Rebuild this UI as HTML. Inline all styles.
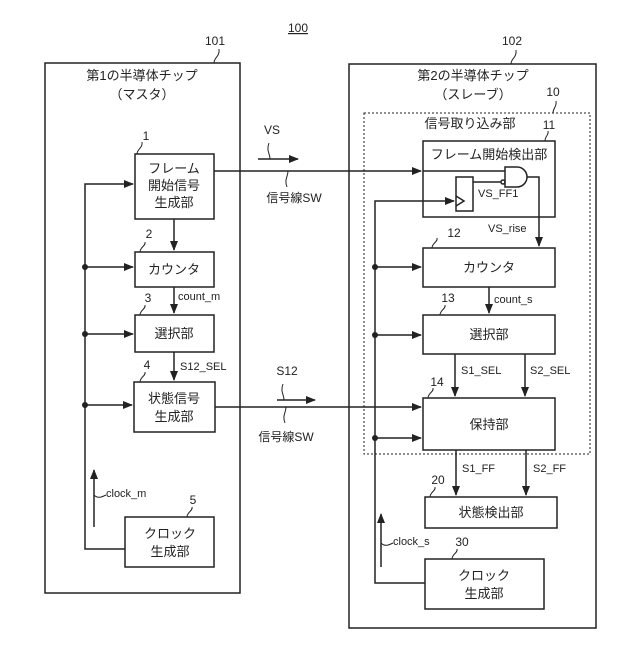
<!DOCTYPE html>
<html><head><meta charset="utf-8"><style>body{margin:0;background:#fff}</style></head><body>
<svg width="640" height="640" viewBox="0 0 640 640" xmlns="http://www.w3.org/2000/svg" font-family="Liberation Sans, Noto Sans CJK JP, sans-serif" font-size="12" fill="#222">
<defs><marker id="a" markerWidth="10" markerHeight="8" refX="9" refY="4" orient="auto" markerUnits="userSpaceOnUse"><path d="M0,0L10,4L0,8z" fill="#222"/></marker></defs>
<g stroke="#222" stroke-width="1.5" fill="none">
<rect x="45" y="63" width="195" height="530"/>
<rect x="349" y="64" width="247" height="564"/>
<rect x="364" y="113" width="226" height="341" stroke-dasharray="2,2" stroke-width="1"/>
<rect x="135" y="154" width="79" height="65"/>
<rect x="135" y="252" width="79" height="35"/>
<rect x="135" y="315" width="79" height="37"/>
<rect x="134" y="382" width="81" height="50"/>
<rect x="125" y="517" width="89" height="50"/>
<rect x="423" y="141" width="132" height="76"/>
<rect x="423" y="248" width="132" height="39"/>
<rect x="423" y="315" width="132" height="39"/>
<rect x="423" y="398" width="132" height="52"/>
<rect x="425" y="497" width="132" height="31"/>
<rect x="425" y="559" width="119" height="50"/>
<rect x="456" y="177" width="17" height="34"/>
<path d="M456,196L464,201L456,206"/>
<path d="M505,167H517A10,10 0 0 1 517,187H505Z"/>
<circle cx="503" cy="182" r="2"/>
<path d="M473,182H501"/>
<path d="M214,171H421" marker-end="url(#a)"/>
<path d="M505,171H423"/>
<path d="M527,177H539V246" marker-end="url(#a)"/>
<path d="M174,219V250" marker-end="url(#a)"/>
<path d="M174,287V313" marker-end="url(#a)"/>
<path d="M174,352V380" marker-end="url(#a)"/>
<path d="M125,549H85V184H133" marker-end="url(#a)"/>
<path d="M85,267H133" marker-end="url(#a)"/>
<path d="M85,334H133" marker-end="url(#a)"/>
<path d="M85,405H132" marker-end="url(#a)"/>
<path d="M94,527V470" marker-end="url(#a)"/>
<path d="M215,407H421" marker-end="url(#a)"/>
<path d="M258,159H298" marker-end="url(#a)"/>
<path d="M277,400H315" marker-end="url(#a)"/>
<path d="M425,583H375V201H454" marker-end="url(#a)"/>
<path d="M375,267H421" marker-end="url(#a)"/>
<path d="M375,335H421" marker-end="url(#a)"/>
<path d="M375,438H421" marker-end="url(#a)"/>
<path d="M381,567V514" marker-end="url(#a)"/>
<path d="M489,287V313" marker-end="url(#a)"/>
<path d="M455,354V396" marker-end="url(#a)"/>
<path d="M525,354V396" marker-end="url(#a)"/>
<path d="M456,450V495" marker-end="url(#a)"/>
<path d="M526,450V495" marker-end="url(#a)"/>
<g stroke-width="1">
<path d="M214,63c0,-6 6,-6 5,-14"/><path d="M511,64c0,-6 6,-6 5,-14"/>
<path d="M553,113c0,-5 4,-6 3,-12"/><path d="M545,141c0,-5 4,-6 3,-10"/>
<path d="M137,154c0,-5 6,-6 5,-12"/><path d="M140,252c0,-5 6,-6 5,-10"/>
<path d="M140,315c0,-5 6,-6 5,-10"/><path d="M140,382c0,-5 6,-6 5,-10"/>
<path d="M187,517c0,-5 6,-6 5,-10"/><path d="M432,248c0,-5 6,-6 5,-10"/>
<path d="M440,315c0,-5 6,-6 5,-10"/><path d="M428,398c0,-5 6,-6 5,-10"/>
<path d="M430,497c0,-5 6,-6 5,-10"/><path d="M452,559c0,-5 6,-6 5,-10"/>
<path d="M270,159c0,-6 -4,-8 -1,-16"/><path d="M284,400c0,-6 -4,-8 -1,-16"/>
<path d="M288,171c0,6 -4,8 -1,16"/><path d="M286,407c0,6 -4,8 -1,16"/>
<path d="M94,495c4,4 8,2 12,0"/><path d="M381,543c4,4 8,2 12,0"/>
</g>
</g>
<g fill="#222">
<circle cx="85" cy="267" r="3"/><circle cx="85" cy="334" r="3"/><circle cx="85" cy="405" r="3"/>
<circle cx="375" cy="267" r="3"/><circle cx="375" cy="335" r="3"/><circle cx="375" cy="438" r="3"/>
</g>
<g text-anchor="middle">
<text x="298" y="32" text-decoration="underline">100</text>
<text x="215" y="45">101</text><text x="512" y="45">102</text>
<text x="142" y="80" font-size="13">第1の半導体チップ</text><text x="142" y="99" font-size="13">（マスタ）</text>
<text x="473" y="80" font-size="13">第2の半導体チップ</text><text x="473" y="99" font-size="13">（スレーブ）</text>
<text x="553" y="96">10</text><text x="549" y="129">11</text>
<text x="470" y="128" font-size="13">信号取り込み部</text>
<text x="489" y="159" font-size="13">フレーム開始検出部</text>
<text x="146" y="140">1</text><text x="149" y="238">2</text><text x="148" y="302">3</text><text x="147" y="369">4</text><text x="193" y="504">5</text>
<text x="454" y="237">12</text><text x="448" y="302">13</text><text x="437" y="386">14</text><text x="438" y="484">20</text><text x="462" y="546">30</text>
<text x="174" y="173" font-size="13">フレーム</text><text x="174" y="190" font-size="13">開始信号</text><text x="174" y="207" font-size="13">生成部</text>
<text x="174" y="274" font-size="13">カウンタ</text>
<text x="174" y="338" font-size="13">選択部</text>
<text x="174" y="403" font-size="13">状態信号</text><text x="174" y="421" font-size="13">生成部</text>
<text x="170" y="538" font-size="13">クロック</text><text x="170" y="556" font-size="13">生成部</text>
<text x="489" y="272" font-size="13">カウンタ</text>
<text x="489" y="339" font-size="13">選択部</text>
<text x="489" y="429" font-size="13">保持部</text>
<text x="491" y="517" font-size="13">状態検出部</text>
<text x="484" y="580" font-size="13">クロック</text><text x="484" y="598" font-size="13">生成部</text>
<text x="272" y="134">VS</text><text x="287" y="375">S12</text>
<text x="294" y="202">信号線SW</text><text x="286" y="441">信号線SW</text>
</g>
<g font-size="11">
<text x="478" y="197">VS_FF1</text><text x="488" y="232">VS_rise</text>
<text x="178" y="300">count_m</text><text x="494" y="303">count_s</text>
<text x="180" y="370">S12_SEL</text>
<text x="461" y="374">S1_SEL</text><text x="530" y="374">S2_SEL</text>
<text x="462" y="472">S1_FF</text><text x="533" y="472">S2_FF</text>
<text x="106" y="497">clock_m</text><text x="393" y="545">clock_s</text>
</g>
</svg>
</body></html>
